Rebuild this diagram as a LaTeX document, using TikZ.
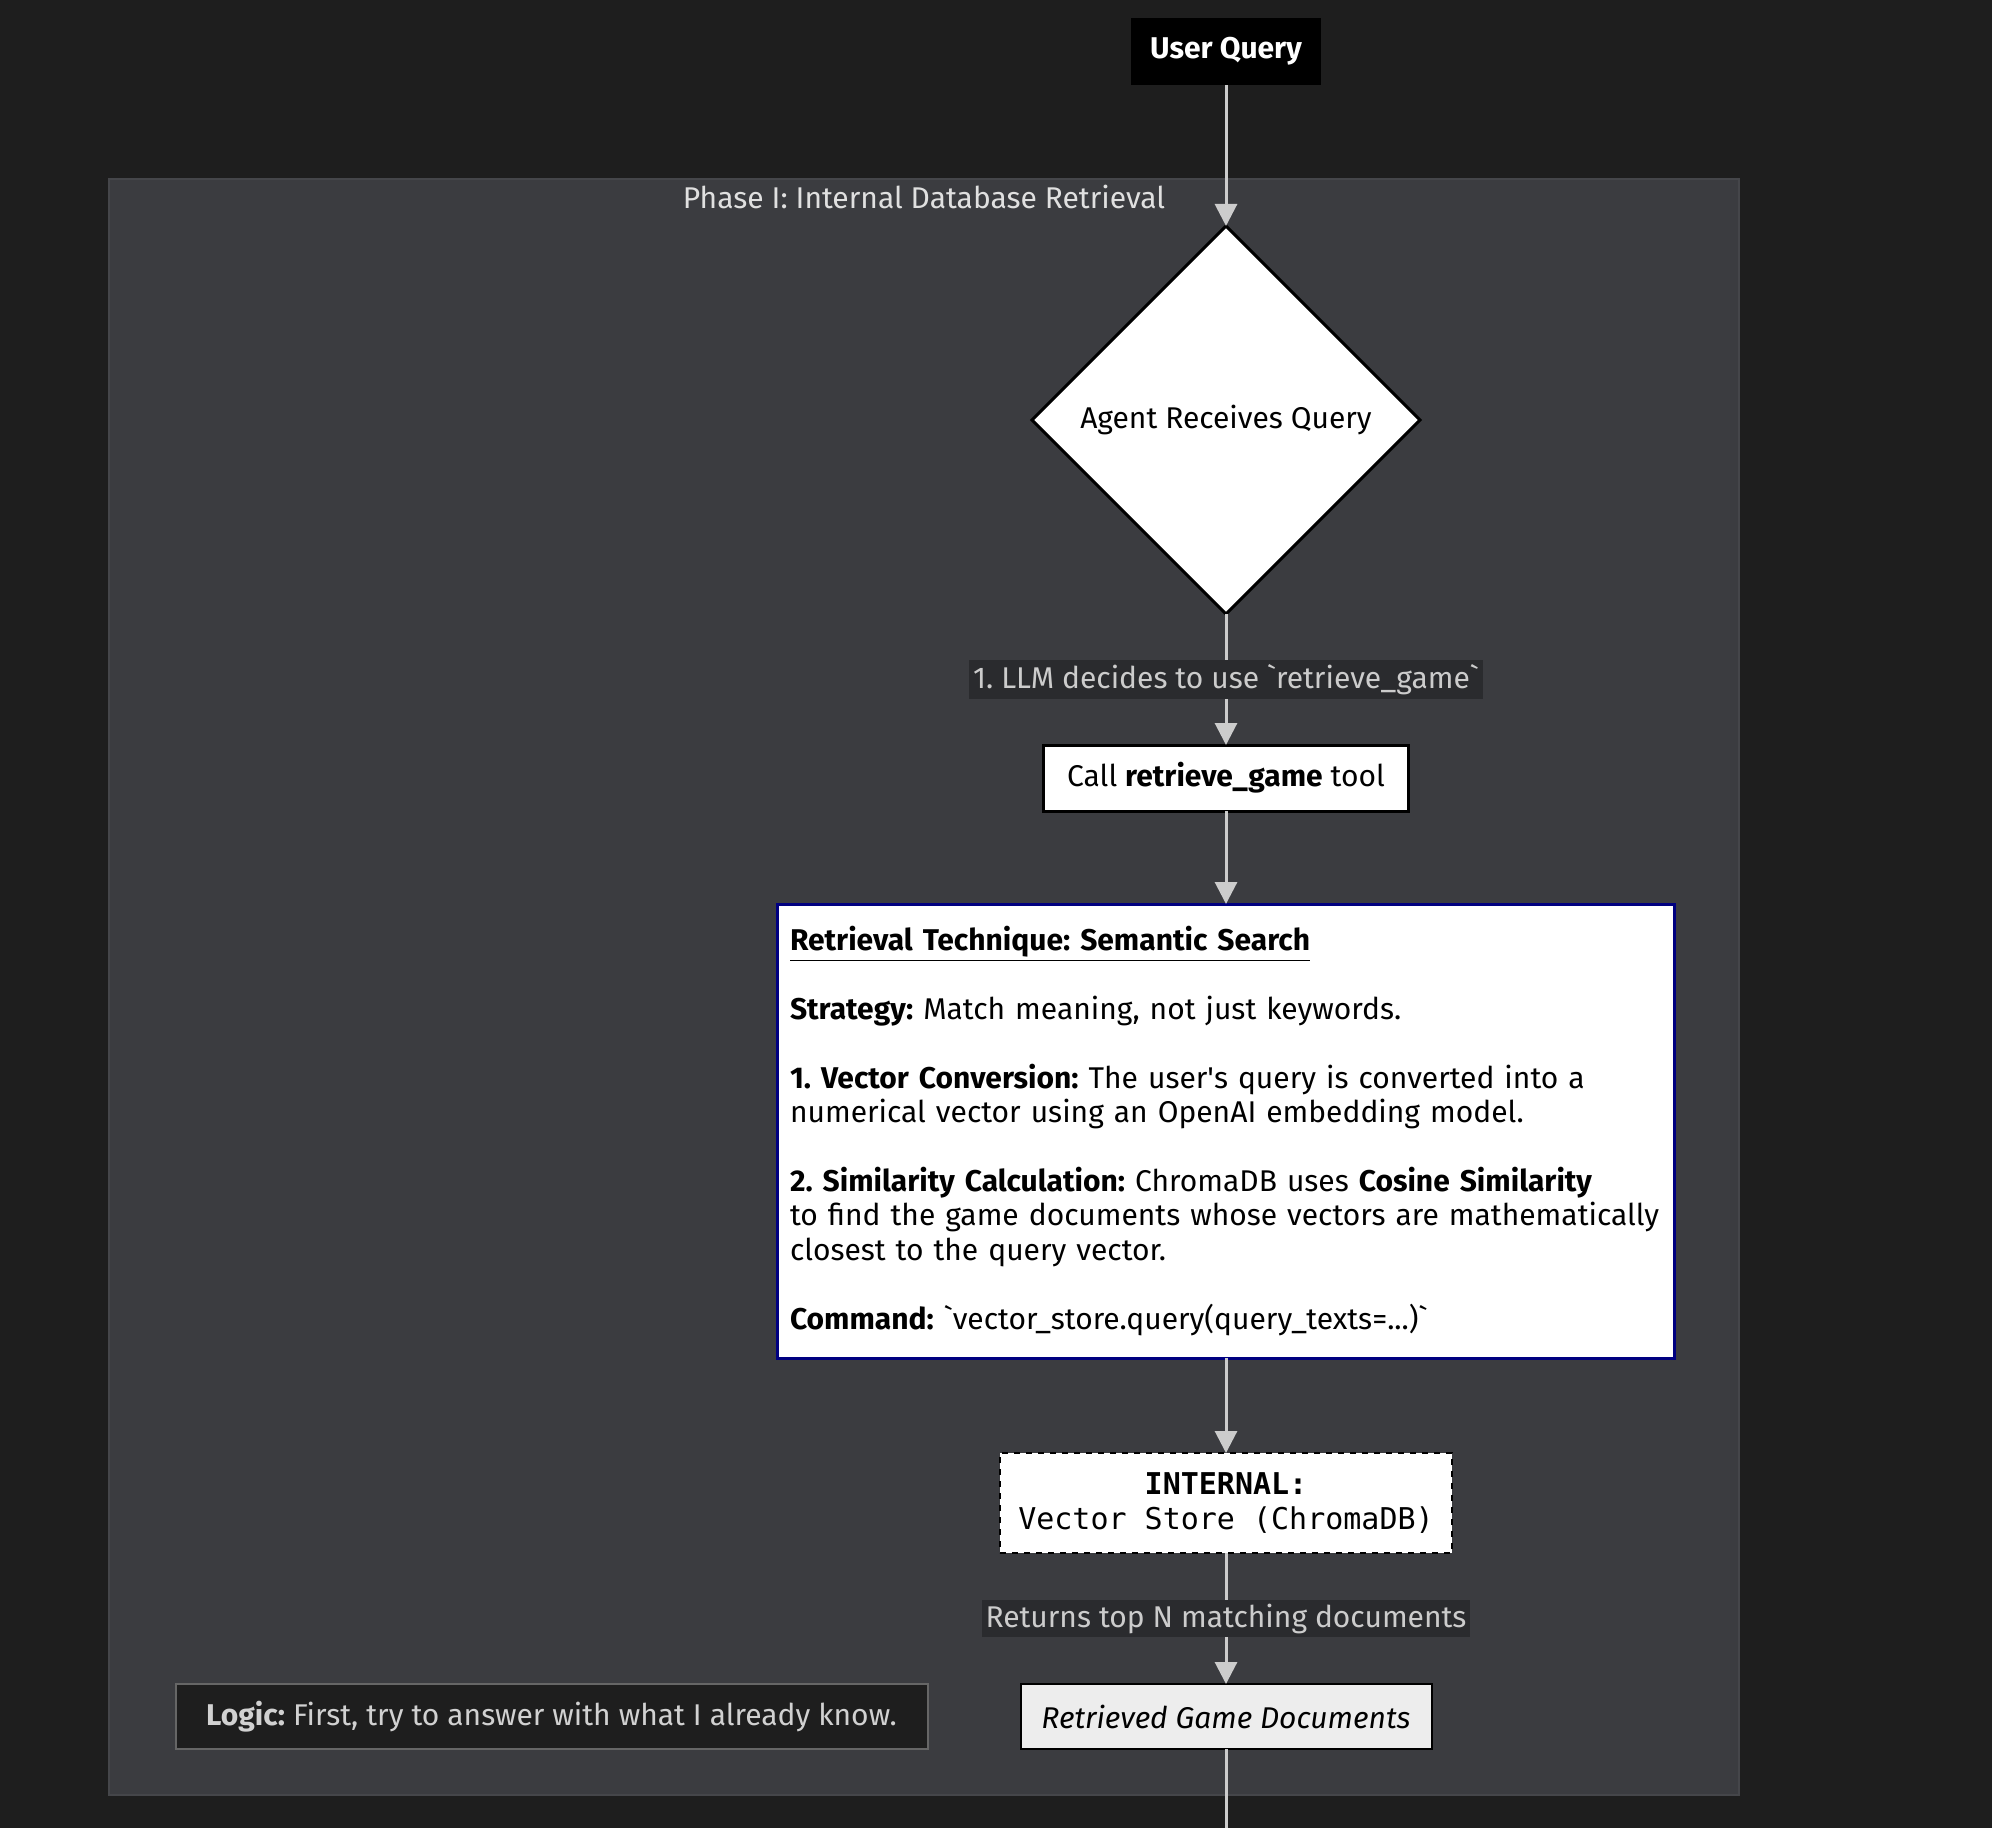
\documentclass[tikz,border=0pt]{standalone}
\usepackage{fontspec}
\setmainfont{Fira Sans}
\setmonofont{DejaVu Sans Mono}
\usetikzlibrary{positioning, shapes.geometric, arrows.meta}
\definecolor{pagebg}{HTML}{1E1E1E}
\definecolor{clusterbg}{HTML}{3B3C40}
\definecolor{clusterline}{HTML}{45464A}
\definecolor{edgegray}{HTML}{CCCCCC}
\definecolor{labelbg}{HTML}{2A2B2E}
\definecolor{navyline}{HTML}{000080}
\frenchspacing
\hyphenpenalty=10000
\newcommand{\bodyfont}{\fontsize{15}{17.2}\selectfont}
\newcommand{\gravemark}{\textasciigrave}
\tikzset{
every node/.style={outer sep=0pt, font=\bodyfont}, % all text in one size
flow/.style={-{Triangle[length=11pt, width=11pt]}, line width=1.5pt, draw=edgegray}, % the connectors
flowlabel/.style={fill=labelbg, text=edgegray, inner sep=2pt}, % text on a connector
userbox/.style={fill=black, text=white, minimum width=95pt, minimum height=33.5pt, font=\bodyfont\bfseries},
decision/.style={diamond, draw=black, line width=1.5pt, fill=white, minimum width=194pt, minimum height=194pt, inner sep=0pt},
toolbox/.style={rectangle, draw=black, line width=1.5pt, fill=white, minimum width=182.5pt, minimum height=33pt},
notebox/.style={rectangle, draw=navyline, line width=1.5pt, fill=white, text width=436pt, inner xsep=6.25pt, minimum height=227pt, align=left},
storebox/.style={rectangle, draw=black, dashed, line width=1pt, fill=white, minimum width=226pt, minimum height=50pt, align=center, font=\ttfamily\fontsize{15}{17.2}\selectfont},
docbox/.style={rectangle, draw=black, line width=1pt, fill=black!7, minimum width=205.5pt, minimum height=32.5pt, font=\bodyfont\itshape},
logicbox/.style={rectangle, draw=black!60, line width=1pt, fill=pagebg, text=black!18, minimum width=376pt, minimum height=32.5pt},
}

\begin{document}
\begin{tikzpicture}
    \useasboundingbox[fill=pagebg] (0,0) rectangle (996pt,-914pt);
    % Phase I box
    \draw[fill=clusterbg, draw=clusterline, line width=1pt] (54.5pt,-89.5pt) rectangle (869.5pt,-897.5pt);
    \node[text=black!12] (phase) at (462pt,-98.5pt) {Phase I: Internal Database Retrieval};

    \node[userbox] (query) at (613pt,-25.75pt) {User Query};
    \node[decision, below=70.5pt of query] (agent) {Agent Receives Query};
    \node[toolbox, below=65.5pt of agent] (call) {Call \textbf{retrieve\_game} tool};
    \node[notebox, below=46.5pt of call] (technique) {%
        \underline{\textbf{Retrieval Technique: Semantic Search}}\\[17.2pt]
        \textbf{Strategy:} Match meaning, not just keywords.\\[17.2pt]
        \textbf{1. Vector Conversion:} The user\textquotesingle s query is converted into a\\
        numerical vector using an OpenAI embedding model.\\[17.2pt]
        \textbf{2. Similarity Calculation:} ChromaDB uses \textbf{Cosine Similarity}\\
        to find the game documents whose vectors are mathematically\\
        closest to the query vector.\\[17.2pt]
        \textbf{Command:} \gravemark vector\_store.query(query\_texts=...)\gravemark};
    \node[storebox, below=47.5pt of technique] (vstore) {\textbf{INTERNAL:}\\Vector Store (ChromaDB)};
    \node[docbox, below=65.5pt of vstore] (docs) {Retrieved Game Documents};
    \node[logicbox, left=46.5pt of docs] (logic) {\textbf{Logic:} First, try to answer with what I already know.};
    \coordinate (exit) at (docs.south |- 0,-914pt);

    \draw[flow] (query) -- (agent);
    \draw[flow] (agent) -- node[flowlabel] {1. LLM decides to use \gravemark retrieve\_game\gravemark} (call);
    \draw[flow] (call) -- (technique);
    \draw[flow] (technique) -- (vstore);
    \draw[flow] (vstore) -- node[flowlabel] {Returns top N matching documents} (docs);
    \draw[line width=1.5pt, draw=edgegray] (docs) -- (exit);
\end{tikzpicture}
\end{document}
